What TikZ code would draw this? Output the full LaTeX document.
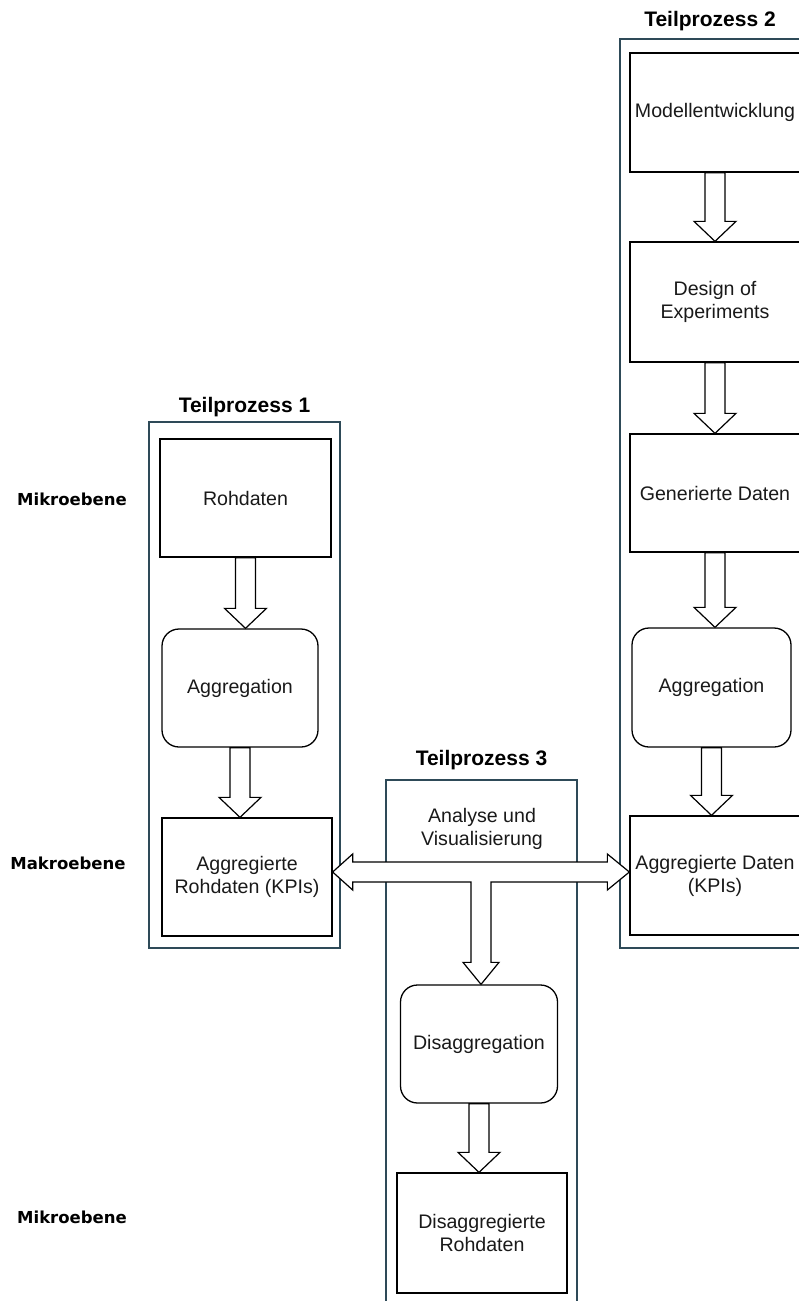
\documentclass[tikz,border=0pt]{standalone}
\usepackage{fontspec}
\setmainfont{Liberation Sans}
\newfontfamily\levelfont{DejaVu Sans}
\usetikzlibrary{positioning,calc}
\definecolor{frameblue}{HTML}{2E4A58}

% hollow block arrow from the bottom of #1 to the top of #2
\newcommand{\blkarrow}[2]{%
  \draw[blk] let \p1=(#1.south), \p2=(#2.north) in
    (\x1-10pt,\y1) -- (\x1+10pt,\y1) -- (\x1+10pt,\y2+20pt) -- (\x1+21pt,\y2+20pt)
    -- (\x1,\y2) -- (\x1-21pt,\y2+20pt) -- (\x1-10pt,\y2+20pt) -- cycle;}

\begin{document}
\begin{tikzpicture}[x=1pt,y=-1pt,
  frame/.style={draw=frameblue, line width=1.6pt, inner sep=0pt},
  title/.style={font=\fontsize{21}{25}\selectfont\bfseries, inner sep=0pt},
  level/.style={font=\levelfont\fontsize{16.5}{20}\selectfont\bfseries, inner sep=0pt},
  txt/.style={font=\fontsize{19.6}{23}\selectfont, align=center, text=black!90, inner sep=0pt},
  box/.style={txt, draw, line width=1.3pt, minimum width=170pt, minimum height=118pt},
  rbox/.style={box, rounded corners=17pt, minimum width=157pt},
  blk/.style={draw, fill=white, line width=1.2pt, line join=miter}]
\clip (0,0) rectangle (799,1301);

% containers
\node[frame, minimum width=191pt, minimum height=526pt] (tp1) at (244.5,685) {};
\node[frame, minimum width=190pt, minimum height=909pt] (tp2) at (715,493.5) {};
\node[frame, minimum width=191pt, minimum height=540pt] (tp3) at (481.5,1050) {};
\node[title, above=4pt of tp1] (t1) {Teilprozess 1};
\node[title, above=7pt of tp2, xshift=-5pt] (t2) {Teilprozess 2};
\node[title, above=9pt of tp3] (t3) {Teilprozess 3};

% levels
\node[level] (mikro1) at (72,499) {Mikroebene};
\node[level] (makro) at (68,863) {Makroebene};
\node[level] (mikro2) at (72,1217) {Mikroebene};

% Teilprozess 1
\node[box, minimum width=171pt] (roh) at (245.5,498) {Rohdaten};
\node[rbox, minimum width=156pt] (agg1) at (240,688) {Aggregation};
\node[box] (aggroh) at (247,877) {Aggregierte\\Rohdaten (KPIs)};

% Teilprozess 2
\node[box, minimum height=119pt] (modell) at (715,112.5) {Modellentwicklung};
\node[box, minimum height=120pt] (doe) at (715,302) {Design of\\Experiments};
\node[box] (gen) at (715,493) {Generierte Daten};
\node[rbox, minimum width=159pt, minimum height=119pt] (agg2) at (711.5,687.5) {Aggregation};
\node[box, minimum height=119pt] (aggd) at (715,875.5) {Aggregierte Daten\\(KPIs)};

% Teilprozess 3
\node[txt] (ana) at (482,829) {Analyse und\\Visualisierung};
\node[rbox] (disagg) at (479,1044) {Disaggregation};
\node[box, minimum height=120pt] (disroh) at (482,1233) {Disaggregierte\\Rohdaten};
\coordinate (junc) at (481,872);

% arrows
\blkarrow{roh}{agg1}
\blkarrow{agg1}{aggroh}
\blkarrow{modell}{doe}
\blkarrow{doe}{gen}
\blkarrow{gen}{agg2}
\blkarrow{agg2}{aggd}
\blkarrow{disagg}{disroh}
\draw[blk] let \p1=(aggroh.east), \p2=(aggd.west), \p3=(disagg.north), \p4=(junc) in
  (\x1,\y4) -- (\x1+20pt,\y4+18pt) -- (\x1+20pt,\y4+10pt) -- (\x2-22pt,\y4+10pt)
  -- (\x2-22pt,\y4+18pt) -- (\x2,\y4) -- (\x2-22pt,\y4-18pt) -- (\x2-22pt,\y4-10pt)
  -- (\x4+10pt,\y4-10pt) -- (\x4+10pt,\y3+22pt) -- (\x4+18pt,\y3+22pt) -- (\x4,\y3)
  -- (\x4-18pt,\y3+22pt) -- (\x4-10pt,\y3+22pt) -- (\x4-10pt,\y4-10pt)
  -- (\x1+20pt,\y4-10pt) -- (\x1+20pt,\y4-18pt) -- cycle;
\end{tikzpicture}
\end{document}
